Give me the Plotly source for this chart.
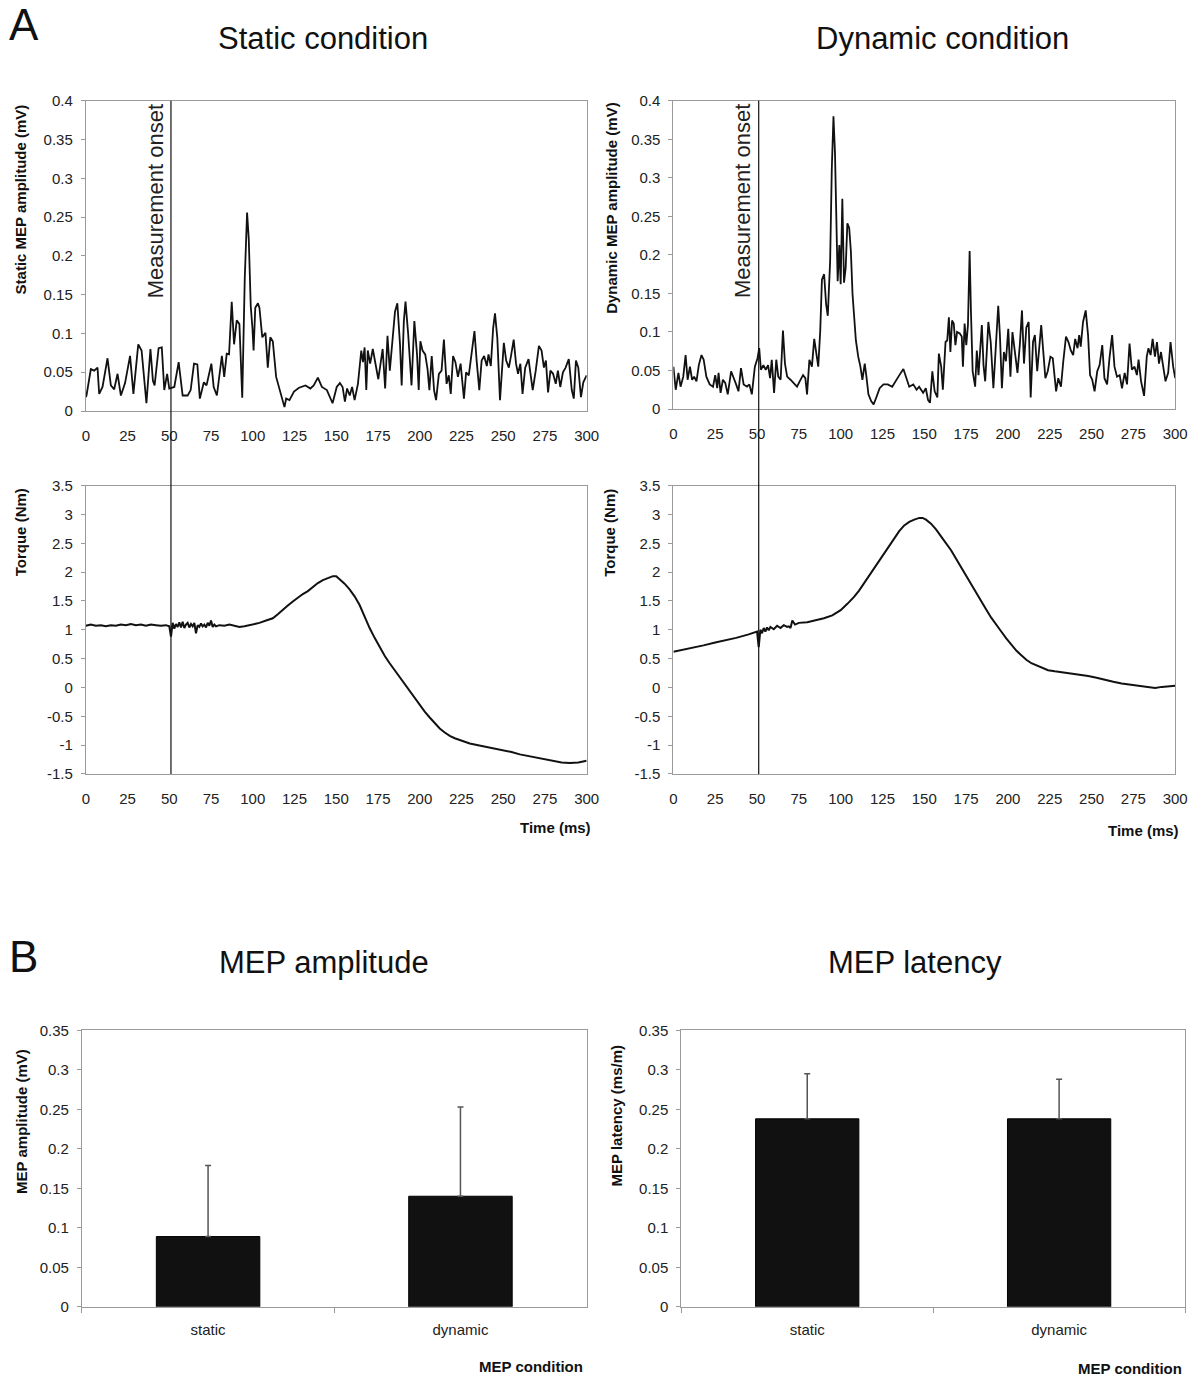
import plotly.graph_objects as go

# ---------------- data ----------------
# Static condition: MEP amplitude (mV) over time (ms)
static_mep_t = [0, 0.4, 3, 5, 7, 8, 10, 13, 15, 17, 19, 21, 23.5, 26.5, 28.5, 31.4, 33.4, 36.3, 38.7,
                40.2, 41.2, 43.6, 45.5, 47, 48.7, 50, 53, 55.6, 58, 61, 62.8, 64.8, 66.8, 68.3,
                70.7, 72.3, 75.2, 76.6, 78.5, 81.5, 82.9, 84.4, 85.8, 87.4, 88.8, 90.4, 92, 93.7,
                95.2, 96.6, 97.6, 98.8, 99.8, 100.5, 101.5, 103.1, 104, 105.7, 107.6, 109, 110.5,
                112, 114, 116, 117.8, 119, 120, 122, 124.7, 127.7, 131.6, 134.5, 136.5, 139, 141.4,
                144.4, 147.8, 150.3, 152.2, 153.8, 155.2, 156.5, 158.1, 159.5, 161, 163, 165, 166,
                167, 168, 168.9, 170.3, 171.9, 173.2, 175.2, 176.8, 177.8, 179.3, 180.7, 182.1,
                183.7, 185.2, 186.6, 188.2, 189.2, 190.5, 191.5, 193.1, 195.1, 196.8, 198.4, 199.4,
                200.4, 201.7, 203.3, 204.7, 205.8, 207.2, 208.6, 209.8, 211.5, 213.1, 214.5, 216.1,
                217.4, 218.6, 220, 221.4, 222.9, 224.5, 226.5, 227.8, 229.4, 231.2, 232.8, 234.1,
                235.7, 237.1, 238.6, 240.2, 241.2, 242.6, 244, 245.1, 246.5, 248.1, 249.4, 250.4,
                251.8, 253.4, 254.7, 256.3, 257.7, 258.9, 260.3, 261.6, 263.2, 265.2, 266.5, 267.7,
                269.5, 271.4, 273, 274.4, 275.6, 276.9, 278.3, 279.9, 281.5, 282.8, 284.2, 285.8,
                287.4, 289.3, 291.1, 292.3, 293.6, 295, 296.6, 298, 300]
static_mep_v = [0.018, 0.020, 0.054, 0.052, 0.056, 0.022, 0.031, 0.068, 0.033, 0.028, 0.048, 0.020,
                0.036, 0.071, 0.022, 0.086, 0.078, 0.010, 0.080, 0.039, 0.033, 0.081, 0.082, 0.027,
                0.048, 0.029, 0.031, 0.063, 0.020, 0.020, 0.027, 0.061, 0.060, 0.016, 0.037, 0.033,
                0.061, 0.031, 0.020, 0.071, 0.044, 0.074, 0.073, 0.141, 0.086, 0.117, 0.112, 0.017,
                0.171, 0.256, 0.222, 0.135, 0.107, 0.078, 0.133, 0.139, 0.133, 0.095, 0.101, 0.056,
                0.095, 0.090, 0.044, 0.027, 0.012, 0.005, 0.016, 0.014, 0.025, 0.030, 0.033, 0.029,
                0.033, 0.043, 0.031, 0.027, 0.010, 0.031, 0.036, 0.031, 0.012, 0.029, 0.020, 0.031,
                0.014, 0.035, 0.078, 0.063, 0.082, 0.027, 0.078, 0.061, 0.080, 0.065, 0.041, 0.065,
                0.080, 0.029, 0.097, 0.052, 0.097, 0.128, 0.139, 0.086, 0.033, 0.116, 0.141, 0.099,
                0.033, 0.116, 0.073, 0.027, 0.090, 0.078, 0.073, 0.054, 0.027, 0.071, 0.027, 0.014,
                0.048, 0.052, 0.092, 0.035, 0.046, 0.022, 0.071, 0.063, 0.044, 0.061, 0.016, 0.050,
                0.046, 0.078, 0.103, 0.065, 0.027, 0.065, 0.071, 0.058, 0.073, 0.058, 0.107, 0.126,
                0.094, 0.014, 0.063, 0.088, 0.065, 0.056, 0.071, 0.092, 0.061, 0.048, 0.061, 0.022,
                0.056, 0.067, 0.046, 0.027, 0.052, 0.084, 0.078, 0.056, 0.065, 0.024, 0.052, 0.048,
                0.035, 0.052, 0.031, 0.050, 0.056, 0.067, 0.027, 0.016, 0.065, 0.056, 0.018, 0.037,
                0.046]

# Dynamic condition: MEP amplitude (mV) over time (ms)
dynamic_mep_t = [0, 1.4, 3, 4.3, 5.9, 7.3, 8.5, 9.9, 11.2, 12.4, 13.8, 15.2, 16.8, 18.1, 19.7, 21.7,
                 23.7, 25, 26.2, 27, 28.2, 29.6, 31, 32.5, 34.5, 35.9, 37.5, 38.9, 40.4, 42, 44,
                 45.4, 46.9, 48.7, 50.3, 51.3, 52.3, 53.8, 55.2, 56.6, 57.8, 58.8, 60.2, 61.5, 62.7,
                 64.1, 65.5, 66.7, 68, 70, 72, 73.9, 75.5, 77.5, 78.9, 79.9, 81.3, 82.8, 84.2, 85.4,
                 86.6, 87.8, 88.8, 90.1, 91.3, 92.3, 93.7, 94.7, 95.7, 96.6, 97.6, 98.2, 99.2, 100,
                 101, 102, 103, 104, 105.1, 106.1, 107.1, 108.1, 109.1, 110.5, 111.8, 113, 114.4,
                 115.4, 116.6, 118.3, 119.7, 121.3, 123.3, 125.6, 128.2, 130.8, 133.1, 135.1, 137.5,
                 139, 141, 143.4, 145.4, 146.9, 149.3, 150.9, 152.2, 153.4, 154.8, 156.2, 157.8,
                 158.7, 160.1, 161.1, 162.7, 163.7, 164.7, 165.6, 166.6, 167.6, 168.6, 169.6, 171.2,
                 172.4, 173.1, 174.1, 175.1, 176.1, 177.1, 177.9, 178.9, 180.4, 181.4, 182.4, 183.4,
                 184.4, 185.4, 186.4, 188.3, 189.7, 191.3, 192.9, 194.2, 195.2, 196.4, 197.6, 198.8,
                 200.2, 201.5, 202.7, 204.1, 205.7, 207.1, 208.4, 209.6, 211, 212.4, 213.6, 215,
                 216.1, 217.5, 218.9, 219.9, 221.3, 222.4, 223.8, 225.4, 226.8, 227.8, 228.8, 230.1,
                 231.7, 233.1, 234.7, 236.2, 237.6, 239, 240.2, 241.6, 242.6, 243.5, 244.9, 246.5,
                 247.9, 249.1, 250.4, 251.8, 253.4, 254.8, 256.4, 257.7, 259.3, 260.7, 262.3, 263.7,
                 265.2, 266.8, 268.2, 269.8, 271.2, 272.7, 274.1, 275.7, 277.1, 278.1, 279.6, 281.4,
                 283, 284, 285.3, 286.5, 287.9, 289.1, 290.3, 291.5, 292.8, 294.2, 295.8, 297.2,
                 298.8, 300]
dynamic_mep_v = [0.055, 0.025, 0.047, 0.029, 0.042, 0.070, 0.038, 0.055, 0.038, 0.042, 0.036, 0.057,
                 0.070, 0.064, 0.042, 0.032, 0.029, 0.044, 0.027, 0.047, 0.021, 0.038, 0.034, 0.019,
                 0.049, 0.042, 0.032, 0.023, 0.053, 0.032, 0.029, 0.032, 0.019, 0.055, 0.066, 0.079,
                 0.051, 0.057, 0.051, 0.057, 0.040, 0.064, 0.021, 0.064, 0.042, 0.038, 0.102, 0.059,
                 0.042, 0.038, 0.034, 0.029, 0.036, 0.044, 0.040, 0.019, 0.064, 0.055, 0.091, 0.072,
                 0.055, 0.102, 0.168, 0.175, 0.136, 0.121, 0.192, 0.312, 0.380, 0.333, 0.224, 0.166,
                 0.213, 0.162, 0.273, 0.164, 0.183, 0.241, 0.235, 0.205, 0.149, 0.124, 0.089, 0.068,
                 0.055, 0.038, 0.059, 0.042, 0.019, 0.010, 0.006, 0.015, 0.027, 0.032, 0.032, 0.029,
                 0.038, 0.044, 0.052, 0.042, 0.029, 0.032, 0.025, 0.029, 0.021, 0.027, 0.012, 0.008,
                 0.049, 0.023, 0.015, 0.072, 0.055, 0.025, 0.087, 0.089, 0.119, 0.074, 0.115, 0.111,
                 0.083, 0.100, 0.098, 0.094, 0.055, 0.111, 0.083, 0.109, 0.205, 0.126, 0.049, 0.029,
                 0.076, 0.044, 0.074, 0.109, 0.057, 0.036, 0.113, 0.087, 0.027, 0.096, 0.134, 0.096,
                 0.027, 0.074, 0.062, 0.104, 0.042, 0.100, 0.074, 0.047, 0.083, 0.128, 0.059, 0.106,
                 0.113, 0.015, 0.087, 0.096, 0.049, 0.079, 0.109, 0.070, 0.040, 0.049, 0.068, 0.066,
                 0.044, 0.023, 0.040, 0.029, 0.062, 0.094, 0.087, 0.076, 0.070, 0.091, 0.079, 0.096,
                 0.081, 0.113, 0.128, 0.096, 0.044, 0.038, 0.023, 0.049, 0.057, 0.083, 0.040, 0.032,
                 0.066, 0.096, 0.055, 0.042, 0.044, 0.027, 0.047, 0.032, 0.085, 0.051, 0.055, 0.044,
                 0.064, 0.036, 0.017, 0.068, 0.079, 0.070, 0.091, 0.068, 0.087, 0.059, 0.074, 0.053,
                 0.036, 0.047, 0.087, 0.055, 0.040]

# Static condition: torque (Nm) over time (ms)
static_torque_t = [0, 3, 6, 9, 12, 15, 18, 21, 24, 27, 30, 33, 36, 39, 42, 45, 48, 50, 51, 52, 53,
                   54, 55, 56, 57, 58, 59, 60, 61, 62, 63, 64, 65, 66, 67, 68, 69, 70, 71, 72, 73,
                   74, 75, 76, 77, 78, 80, 83, 86, 89, 92, 95, 100, 104, 108, 112, 115, 118, 121,
                   124, 127, 130, 133, 136, 139, 142, 145, 148, 150, 152, 155, 158, 161, 164, 167,
                   170, 173, 176, 179, 182, 185, 188, 191, 194, 197, 200, 203, 206, 209, 212, 215,
                   218, 221, 225, 230, 235, 240, 245, 250, 255, 260, 265, 270, 275, 280, 285, 290,
                   295, 300]
static_torque_v = [1.07, 1.09, 1.07, 1.08, 1.06, 1.08, 1.07, 1.09, 1.08, 1.10, 1.08, 1.09, 1.07,
                   1.09, 1.08, 1.07, 1.08, 1.06, 0.88, 1.12, 1.02, 1.10, 1.05, 1.13, 1.04, 1.14,
                   1.03, 1.09, 1.12, 1.04, 1.10, 1.06, 1.12, 0.94, 1.08, 1.05, 1.11, 1.06, 1.09,
                   1.04, 1.12, 1.07, 1.16, 1.05, 1.09, 1.06, 1.08, 1.07, 1.09, 1.07, 1.05, 1.06,
                   1.09, 1.12, 1.16, 1.20, 1.27, 1.35, 1.42, 1.49, 1.56, 1.62, 1.67, 1.74, 1.81,
                   1.86, 1.90, 1.93, 1.93, 1.88, 1.80, 1.70, 1.58, 1.43, 1.22, 1.03, 0.86, 0.70,
                   0.55, 0.42, 0.30, 0.18, 0.06, -0.07, -0.20, -0.31, -0.42, -0.52, -0.62, -0.71,
                   -0.78, -0.84, -0.88, -0.92, -0.97, -1.00, -1.03, -1.05, -1.08, -1.12, -1.16,
                   -1.19, -1.22, -1.25, -1.27, -1.30, -1.31, -1.30, -1.27]

# Dynamic condition: torque (Nm) over time (ms)
dynamic_torque_t = [0, 5, 10, 15, 18, 25, 30, 37.5, 45, 49, 50, 51, 52, 53, 54, 55, 56, 57, 58, 60,
                    62, 64, 66, 68, 69, 70, 71.1, 72.7, 75, 80, 85, 90, 95, 100, 104, 108, 111, 114,
                    117, 120, 123, 126, 129, 132, 135, 138, 141, 144, 147, 149, 151, 154, 157, 160,
                    163, 166, 169, 172, 175, 178, 181, 184, 187, 190, 193, 196, 199, 202, 205, 208,
                    211, 214, 217, 220, 224, 228, 233, 238, 243, 248, 253, 258, 263, 268, 273, 278,
                    283, 288, 292, 296, 300]
dynamic_torque_v = [0.62, 0.65, 0.67, 0.71, 0.73, 0.78, 0.81, 0.86, 0.92, 0.95, 0.97, 0.70, 1.00,
                    0.94, 1.03, 0.97, 1.04, 0.99, 1.05, 1.01, 1.07, 1.03, 1.08, 1.05, 1.06, 1.03,
                    1.16, 1.09, 1.12, 1.13, 1.16, 1.20, 1.25, 1.34, 1.45, 1.57, 1.68, 1.81, 1.94,
                    2.07, 2.20, 2.33, 2.46, 2.59, 2.71, 2.81, 2.87, 2.91, 2.94, 2.94, 2.91, 2.84,
                    2.74, 2.62, 2.51, 2.38, 2.23, 2.08, 1.93, 1.78, 1.64, 1.50, 1.35, 1.21, 1.10,
                    0.97, 0.85, 0.74, 0.64, 0.56, 0.48, 0.42, 0.38, 0.34, 0.30, 0.28, 0.26, 0.25,
                    0.23, 0.20, 0.17, 0.13, 0.10, 0.07, 0.05, 0.03, 0.01, -0.01, 0.01, 0.02, 0.03]

onset_ms = 51  # measurement onset marker (ms)

# Group means with upper error (SD)
conditions = ["static", "dynamic"]
amp_mean = [0.089, 0.140]
amp_sd = [0.090, 0.113]
lat_mean = [0.238, 0.238]
lat_sd = [0.057, 0.050]

# Tick labels
time_ticks = [0, 25, 50, 75, 100, 125, 150, 175, 200, 225, 250, 275, 300]
mep_ticks = [0, 0.05, 0.1, 0.15, 0.2, 0.25, 0.3, 0.35, 0.4]
mep_ticktext = ["0", "0.05", "0.1", "0.15", "0.2", "0.25", "0.3", "0.35", "0.4"]
torque_ticks = [-1.5, -1, -0.5, 0, 0.5, 1, 1.5, 2, 2.5, 3, 3.5]
torque_ticktext = ["-1.5", "-1", "-0.5", "0", "0.5", "1", "1.5", "2", "2.5", "3", "3.5"]
bar_ticks = [0, 0.05, 0.1, 0.15, 0.2, 0.25, 0.3, 0.35]
bar_ticktext = ["0", "0.05", "0.1", "0.15", "0.2", "0.25", "0.3", "0.35"]

# ---------------- layout helpers ----------------
W, H = 1202, 1385
FONT = "Liberation Sans, Arial, Helvetica, sans-serif"
FRAME = "#9a9a9a"
TICKCOL = "#222222"
TICKSIZE = 15


def px(x):
    return x / W


def py(y):
    return 1 - y / H


def xax(x0, x1, anchor, **kw):
    d = dict(domain=[px(x0), px(x1)], anchor=anchor, showgrid=False, zeroline=False,
             showline=True, linecolor=FRAME, linewidth=1, mirror=True,
             tickfont=dict(family=FONT, size=TICKSIZE, color=TICKCOL))
    d.update(kw)
    return d


def yax(y_top, y_bot, anchor, **kw):
    d = dict(domain=[py(y_bot), py(y_top)], anchor=anchor, showgrid=False, zeroline=False,
             showline=True, linecolor=FRAME, linewidth=1, mirror=True,
             ticks="outside", ticklen=4, tickcolor=FRAME, ticklabelstandoff=5,
             tickfont=dict(family=FONT, size=TICKSIZE, color=TICKCOL))
    d.update(kw)
    return d


time_axis = dict(range=[0, 300], tickmode="array", tickvals=time_ticks, ticks="",
                 ticklabelstandoff=11)

fig = go.Figure()

mep_line = dict(color="#111111", width=1.8)
torque_line = dict(color="#111111", width=2.0)
fig.add_trace(go.Scatter(x=static_mep_t, y=static_mep_v, mode="lines", line=mep_line,
                         xaxis="x", yaxis="y", showlegend=False))
fig.add_trace(go.Scatter(x=dynamic_mep_t, y=dynamic_mep_v, mode="lines", line=mep_line,
                         xaxis="x2", yaxis="y2", showlegend=False))
fig.add_trace(go.Scatter(x=static_torque_t, y=static_torque_v, mode="lines", line=torque_line,
                         xaxis="x3", yaxis="y3", showlegend=False))
fig.add_trace(go.Scatter(x=dynamic_torque_t, y=dynamic_torque_v, mode="lines", line=torque_line,
                         xaxis="x4", yaxis="y4", showlegend=False))

err_style = dict(type="data", symmetric=False, arrayminus=[0, 0], color="#555555",
                 thickness=1.5, width=3)
fig.add_trace(go.Bar(x=conditions, y=amp_mean, marker=dict(color="#111111",
                     line=dict(color="#000000", width=1)),
                     error_y=dict(array=amp_sd, **err_style),
                     xaxis="x5", yaxis="y5", showlegend=False))
fig.add_trace(go.Bar(x=conditions, y=lat_mean, marker=dict(color="#111111",
                     line=dict(color="#000000", width=1)),
                     error_y=dict(array=lat_sd, **err_style),
                     xaxis="x6", yaxis="y6", showlegend=False))

# Panel geometry (pixels)
SX0, SX1 = 83, 591      # static columns
DX0, DX1 = 679, 1188    # dynamic columns
MEP_T, MEP_B = 93, 407
TQ_T, TQ_B = 482.5, 774.5
BAR_T, BAR_B = 1034, 1314

cat_axis = dict(type="category", tickson="boundaries", ticks="outside", ticklen=5,
                tickcolor=FRAME, ticklabelstandoff=9)

fig.update_layout(
    width=W, height=H, margin=dict(l=0, r=0, t=0, b=0),
    paper_bgcolor="white", plot_bgcolor="white",
    bargap=0.59,
    font=dict(family=FONT, color="#111111"),
    xaxis=xax(SX0, SX1, "y", **time_axis),
    yaxis=yax(MEP_T, MEP_B, "x", range=[0, 0.4], tickmode="array",
              tickvals=mep_ticks, ticktext=mep_ticktext),
    xaxis2=xax(DX0, DX1, "y2", **time_axis),
    yaxis2=yax(MEP_T, MEP_B - 2, "x2", range=[0, 0.4], tickmode="array",
               tickvals=mep_ticks, ticktext=mep_ticktext),
    xaxis3=xax(SX0, SX1, "y3", **time_axis),
    yaxis3=yax(TQ_T, TQ_B, "x3", range=[-1.5, 3.5], tickmode="array",
               tickvals=torque_ticks, ticktext=torque_ticktext),
    xaxis4=xax(DX0, DX1, "y4", **time_axis),
    yaxis4=yax(TQ_T, TQ_B, "x4", range=[-1.5, 3.5], tickmode="array",
               tickvals=torque_ticks, ticktext=torque_ticktext),
    xaxis5=xax(79, 591, "y5", **cat_axis),
    yaxis5=yax(BAR_T, BAR_B, "x5", range=[0, 0.35], tickmode="array",
               tickvals=bar_ticks, ticktext=bar_ticktext),
    xaxis6=xax(687, 1198, "y6", **cat_axis),
    yaxis6=yax(BAR_T, BAR_B, "x6", range=[0, 0.35], tickmode="array",
               tickvals=bar_ticks, ticktext=bar_ticktext),
)

# Measurement onset marker spanning MEP and torque panels
for xr in ("x", "x2"):
    fig.add_shape(type="line", xref=xr, yref="paper", x0=onset_ms, x1=onset_ms,
                  y0=py(TQ_B), y1=py(MEP_T), line=dict(color="#111111", width=1.2))
    fig.add_annotation(xref=xr, yref="paper", x=onset_ms, y=py(MEP_T + 1),
                       text="Measurement onset", textangle=-90, showarrow=False,
                       xanchor="right", yanchor="top", xshift=-1,
                       font=dict(family=FONT, size=22, color="#222222"))


# Text labels
def label(text, x, y, size, bold=False, angle=0, xanchor="center", yanchor="middle"):
    fig.add_annotation(xref="paper", yref="paper", x=px(x), y=py(y),
                       text=f"<b>{text}</b>" if bold else text, showarrow=False,
                       textangle=angle, xanchor=xanchor, yanchor=yanchor,
                       font=dict(family=FONT, size=size, color="#111111"))


label("A", 20, 16, 44)
label("B", 20, 959, 44)
label("Static condition", 324, 30, 31)
label("Dynamic condition", 952, 30, 31)
label("MEP amplitude", 325, 965, 31)
label("MEP latency", 924, 965, 31)

label("Static MEP amplitude (mV)", 17, 193, 15, bold=True, angle=-90)
label("Dynamic MEP amplitude (mV)", 616, 202, 15, bold=True, angle=-90)
label("Torque (Nm)", 17, 530, 15, bold=True, angle=-90)
label("Torque (Nm)", 614, 530, 15, bold=True, angle=-90)
label("MEP amplitude (mV)", 17, 1126, 15, bold=True, angle=-90)
label("MEP latency (ms/m)", 621, 1121, 15, bold=True, angle=-90)

label("Time (ms)", 597, 829, 15, bold=True, xanchor="right")
label("Time (ms)", 1194, 832, 15, bold=True, xanchor="right")
label("MEP condition", 589, 1374, 15, bold=True, xanchor="right")
label("MEP condition", 1197, 1376, 15, bold=True, xanchor="right")

fig.write_html("out.html")
